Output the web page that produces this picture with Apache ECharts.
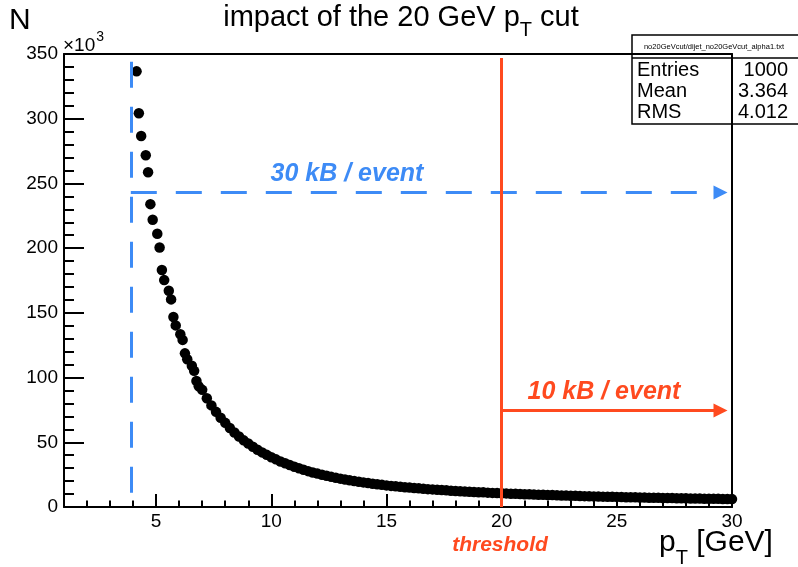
<!DOCTYPE html>
<html>
<head>
<meta charset="utf-8">
<script src="https://cdn.jsdelivr.net/npm/echarts@6/dist/echarts.min.js"></script>
<style>
  html, body { margin: 0; padding: 0; background: #fff; }
  #chart { width: 798px; height: 567px; }
</style>
</head>
<body>
<div id="chart"></div>
<script>
const FONT = '"Liberation Sans", Arial, Helvetica, sans-serif';
const BLUE = '#3d8bf6';
const RED = '#ff4a1f';

// Leading-jet spectrum, resolved points at low pT (GeV) and counts (x10^3)
const headPt = [4.15, 4.25, 4.35, 4.55, 4.65, 4.75, 4.85, 5.05, 5.15, 5.25, 5.35,
                5.55, 5.65, 5.75, 5.85, 6.05, 6.15, 6.25, 6.35, 6.55, 6.65, 6.75, 6.85];
const headN  = [336.6, 304.2, 286.7, 271.8, 258.7, 234.0, 221.9, 211.1, 200.5, 183.1, 175.3,
                167.1, 160.4, 146.8, 140.3, 133.5, 129.1, 118.7, 114.2, 109.2, 105.2, 97.4, 93.2];

// Falling tail of the spectrum
const tailPt = [
  7.0, 7.2, 7.4, 7.6, 7.8, 8.0, 8.2, 8.4, 8.6, 8.8,
  9.0, 9.2, 9.4, 9.6, 9.8, 10.0, 10.2, 10.4, 10.6, 10.8,
  11.0, 11.2, 11.4, 11.6, 11.8, 12.0, 12.2, 12.4, 12.6, 12.8,
  13.0, 13.2, 13.4, 13.6, 13.8, 14.0, 14.2, 14.4, 14.6, 14.8,
  15.0, 15.2, 15.4, 15.6, 15.8, 16.0, 16.2, 16.4, 16.6, 16.8,
  17.0, 17.2, 17.4, 17.6, 17.8, 18.0, 18.2, 18.4, 18.6, 18.8,
  19.0, 19.2, 19.4, 19.6, 19.8, 20.0, 20.2, 20.4, 20.6, 20.8,
  21.0, 21.2, 21.4, 21.6, 21.8, 22.0, 22.2, 22.4, 22.6, 22.8,
  23.0, 23.2, 23.4, 23.6, 23.8, 24.0, 24.2, 24.4, 24.6, 24.8,
  25.0, 25.2, 25.4, 25.6, 25.8, 26.0, 26.2, 26.4, 26.6, 26.8,
  27.0, 27.2, 27.4, 27.6, 27.8, 28.0, 28.2, 28.4, 28.6, 28.8,
  29.0, 29.2, 29.4, 29.6, 29.8, 30.0
];
const tailN = [
  90.5, 84.0, 78.5, 73.5, 69.0, 65.0, 61.0, 57.5, 54.5, 51.5,
  49.0, 46.5, 44.3, 42.2, 40.3, 38.5, 36.8, 35.2, 33.8, 32.4,
  31.1, 29.9, 28.8, 27.7, 26.7, 25.8, 24.9, 24.1, 23.3, 22.6,
  21.9, 21.2, 20.6, 20.0, 19.5, 19.0, 18.5, 18.0, 17.6, 17.1,
  16.7, 16.3, 16.0, 15.6, 15.3, 15.0, 14.7, 14.4, 14.1, 13.8,
  13.6, 13.3, 13.1, 12.9, 12.6, 12.4, 12.2, 12.0, 11.8, 11.6,
  11.4, 11.3, 11.1, 10.9, 10.8, 10.6, 10.5, 10.3, 10.2, 10.0,
  9.9, 9.8, 9.6, 9.5, 9.4, 9.3, 9.2, 9.0, 8.9, 8.8,
  8.7, 8.6, 8.5, 8.4, 8.3, 8.2, 8.1, 8.0, 7.9, 7.9,
  7.8, 7.7, 7.6, 7.5, 7.5, 7.4, 7.3, 7.2, 7.2, 7.1,
  7.0, 7.0, 6.9, 6.8, 6.8, 6.7, 6.6, 6.6, 6.5, 6.4,
  6.4, 6.3, 6.3, 6.2, 6.1, 6.1
];

// Axis ticks
const xMajorTicks = [5, 10, 15, 20, 25, 30];
const xMinorTicks = [2, 3, 4, 6, 7, 8, 9, 11, 12, 13, 14, 16, 17, 18, 19,
                     21, 22, 23, 24, 26, 27, 28, 29];

// Cut position and storage-rate guide levels
const lowCutPt = 3.9;
const lowCutTop = 344;
const rateLowLevel = 243;
const thresholdPt = 20;
const thresholdTop = 347;
const rateHighLevel = 74.5;
const arrowEndPt = 29.5;

// Stats box contents
const statsTitle = 'no20GeVcut/dijet_no20GeVcut_alpha1.txt';
const statsRows = [['Entries', '1000'], ['Mean', '3.364'], ['RMS', '4.012']];

const points = headPt.map((x, i) => [x, headN[i]])
  .concat(tailPt.map((x, i) => [x, tailN[i]]));

function guide(color, dashed, from, to, arrow) {
  return {
    type: 'line', data: [], silent: true, z: 5,
    markLine: {
      silent: true, animation: false,
      symbol: ['none', arrow ? 'triangle' : 'none'],
      symbolSize: 14,
      label: { show: false },
      lineStyle: { color: color, width: 3, opacity: 1, type: dashed ? [26, 19] : 'solid' },
      emphasis: { disabled: true },
      data: [[{ coord: from }, { coord: to }]]
    }
  };
}

const blackAxis = { lineStyle: { color: '#000', width: 2 } };

const chart = echarts.init(document.getElementById('chart'), null, { renderer: 'canvas' });
chart.setOption({
  animation: false,
  backgroundColor: '#fff',
  textStyle: { fontFamily: FONT },
  grid: { left: 64, right: 66, top: 54, bottom: 60 },
  xAxis: [
    {
      type: 'value', min: 1, max: 30, position: 'bottom',
      axisLine: blackAxis,
      axisTick: { inside: true, length: 13, customValues: xMajorTicks, lineStyle: { color: '#000', width: 2 } },
      axisLabel: { customValues: xMajorTicks, fontSize: 19, color: '#000', margin: 5, fontFamily: FONT },
      splitLine: { show: false }
    },
    {
      type: 'value', min: 1, max: 30, position: 'bottom',
      axisLine: { show: false },
      axisTick: { inside: true, length: 6.5, customValues: xMinorTicks, lineStyle: { color: '#000', width: 2 } },
      axisLabel: { show: false },
      splitLine: { show: false }
    },
    {
      type: 'value', min: 1, max: 30, position: 'top',
      axisLine: blackAxis, axisTick: { show: false }, axisLabel: { show: false }, splitLine: { show: false }
    }
  ],
  yAxis: [
    {
      type: 'value', min: 0, max: 350, interval: 50, position: 'left',
      axisLine: { show: true, lineStyle: { color: '#000', width: 2 } },
      axisTick: { show: true, inside: true, length: 20, lineStyle: { color: '#000', width: 2 } },
      minorTick: { show: true, splitNumber: 5, length: 10, lineStyle: { color: '#000', width: 2 } },
      axisLabel: { fontSize: 19, color: '#000', margin: 6, fontFamily: FONT },
      splitLine: { show: false }
    },
    {
      type: 'value', min: 0, max: 350, position: 'right',
      axisLine: { show: true, lineStyle: { color: '#000', width: 2 } },
      axisTick: { show: false }, axisLabel: { show: false }, splitLine: { show: false }
    }
  ],
  series: [
    {
      type: 'scatter', xAxisIndex: 0, yAxisIndex: 0, data: points,
      symbol: 'circle', symbolSize: 10.5, silent: true, z: 3,
      itemStyle: { color: '#000', opacity: 1 }
    },
    guide(BLUE, true, [lowCutPt, lowCutTop], [lowCutPt, 0], false),
    guide(BLUE, true, [lowCutPt, rateLowLevel], [arrowEndPt, rateLowLevel], true),
    guide(RED, false, [thresholdPt, thresholdTop], [thresholdPt, 0], false),
    guide(RED, false, [thresholdPt, rateHighLevel], [arrowEndPt, rateHighLevel], true)
  ],
  graphic: [
    {
      type: 'text', x: 401, y: 18, z: 20,
      style: {
        text: '{m|impact of the 20 GeV p}{s|T}{m| cut}',
        align: 'center', verticalAlign: 'middle', fill: '#000',
        rich: {
          m: { fontSize: 29, fontFamily: FONT, fill: '#000' },
          s: { fontSize: 20, fontFamily: FONT, fill: '#000', padding: [24, 0, 0, 0] }
        }
      }
    },
    {
      type: 'text', x: 9, y: 21, z: 20,
      style: { text: 'N', font: '30px ' + FONT, fill: '#000', verticalAlign: 'middle' }
    },
    {
      type: 'text', x: 63, y: 46, z: 20,
      style: {
        text: '{m|×10}{u|3}', verticalAlign: 'middle', fill: '#000',
        rich: {
          m: { fontSize: 19, fontFamily: FONT, fill: '#000' },
          u: { fontSize: 14, fontFamily: FONT, fill: '#000', padding: [0, 0, 18, 1] }
        }
      }
    },
    {
      type: 'text', x: 659, y: 543, z: 20,
      style: {
        text: '{m|p}{s|T}{m| [GeV]}', verticalAlign: 'middle', fill: '#000',
        rich: {
          m: { fontSize: 30, fontFamily: FONT, fill: '#000' },
          s: { fontSize: 20, fontFamily: FONT, fill: '#000', padding: [30, 0, 0, 0] }
        }
      }
    },
    {
      type: 'text', x: 347, y: 174, z: 20,
      style: { text: '30 kB / event', font: 'italic bold 25px ' + FONT, fill: BLUE, align: 'center', verticalAlign: 'middle' }
    },
    {
      type: 'text', x: 604, y: 392, z: 20,
      style: { text: '10 kB / event', font: 'italic bold 25px ' + FONT, fill: RED, align: 'center', verticalAlign: 'middle' }
    },
    {
      type: 'text', x: 500, y: 545, z: 20,
      style: { text: 'threshold', font: 'italic bold 21px ' + FONT, fill: RED, align: 'center', verticalAlign: 'middle' }
    },
    {
      type: 'group', z: 30,
      children: [
        { type: 'rect', shape: { x: 632, y: 35, width: 175, height: 89 },
          style: { fill: '#fff', stroke: '#000', lineWidth: 1.5 } },
        { type: 'line', shape: { x1: 632, y1: 58, x2: 798, y2: 58 },
          style: { stroke: '#000', lineWidth: 1.5 } },
        { type: 'text', x: 714, y: 47,
          style: { text: statsTitle, font: '7.5px ' + FONT, fill: '#000', align: 'center', verticalAlign: 'middle' } }
      ].concat(statsRows.flatMap((row, i) => [
        { type: 'text', x: 637, y: 70.5 + i * 21,
          style: { text: row[0], font: '20px ' + FONT, fill: '#000', verticalAlign: 'middle' } },
        { type: 'text', x: 788, y: 70.5 + i * 21,
          style: { text: row[1], font: '20px ' + FONT, fill: '#000', align: 'right', verticalAlign: 'middle' } }
      ]))
    }
  ]
});
</script>
</body>
</html>
